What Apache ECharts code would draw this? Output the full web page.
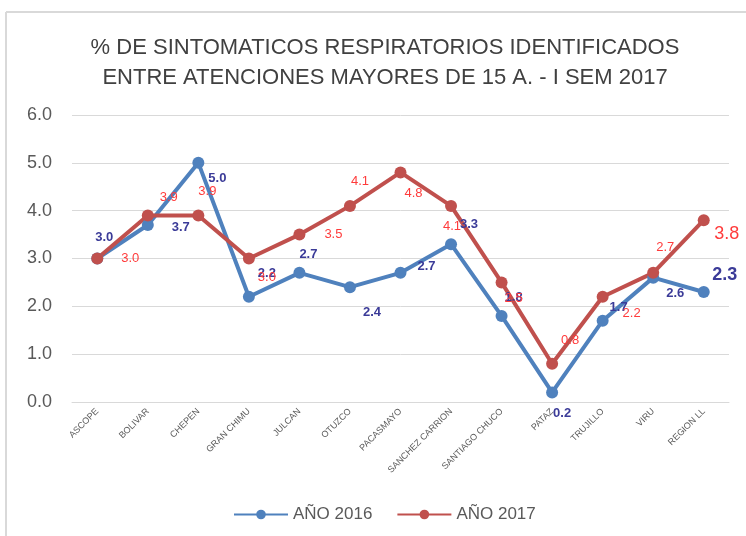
<!DOCTYPE html>
<html>
<head>
<meta charset="utf-8">
<script src="https://cdn.jsdelivr.net/npm/echarts@6/dist/echarts.min.js"></script>
<style>
  html, body { margin: 0; padding: 0; background: #fff; }
  #main { width: 746px; height: 536px; }
</style>
</head>
<body>
<div id="main"></div>
<script>
// categorias (provincias)
var provincias = ['ASCOPE', 'BOLIVAR', 'CHEPEN', 'GRAN CHIMU', 'JULCAN', 'OTUZCO', 'PACASMAYO',
    'SANCHEZ CARRION', 'SANTIAGO CHUCO', 'PATAZ', 'TRUJILLO', 'VIRU', 'REGION LL'];
// % SR identificados
var anio2016 = [3.0, 3.7, 5.0, 2.2, 2.7, 2.4, 2.7, 3.3, 1.8, 0.2, 1.7, 2.6, 2.3];
var anio2017 = [3.0, 3.9, 3.9, 3.0, 3.5, 4.1, 4.8, 4.1, 2.5, 0.8, 2.2, 2.7, 3.8];
var yTicks = [0, 1, 2, 3, 4, 5, 6];

// desplazamiento de etiquetas (como en el grafico original)
var off2016 = [[7, -21], [33, 2], [19, 16], [18, -23], [9, -18], [22, 25], [26, -6],
    [18, -20], [12, -18], [10, 21], [16, -13], [22, 16], [21, -17]];
var off2017 = [[33, 0], [21, -18], [9, -24], [18, 19], [34, 0], [10, -24], [13, 21],
    [1, 21], [12, 16], [18, -23], [29, 17], [12, -25], [23, 14]];

var font = '"Liberation Sans", sans-serif';

function buildData(values, offsets, color, bold) {
    var last = values.length - 1;
    return values.map(function (v, i) {
        return {
            value: v,
            label: {
                offset: offsets[i],
                fontSize: i === last ? 18 : 13,
                fontWeight: bold ? 'bold' : 'normal',
                color: color
            }
        };
    });
}

var chart = echarts.init(document.getElementById('main'));

var option = {
    animation: false,
    backgroundColor: '#fff',
    textStyle: { fontFamily: font },
    title: {
        text: '% DE SINTOMATICOS RESPIRATORIOS IDENTIFICADOS\nENTRE ATENCIONES MAYORES DE 15 A. - I SEM 2017',
        left: 380,
        top: 28,
        textAlign: 'center',
        textStyle: {
            fontFamily: font,
            fontSize: 22,
            fontWeight: 'normal',
            color: '#404040',
            lineHeight: 30
        }
    },
    graphic: [
        { type: 'line', shape: { x1: 6, y1: 12, x2: 746, y2: 12 }, style: { stroke: '#d9d9d9', lineWidth: 2 } },
        { type: 'line', shape: { x1: 6, y1: 12, x2: 6, y2: 536 }, style: { stroke: '#d9d9d9', lineWidth: 2 } }
    ],
    legend: {
        left: 228,
        bottom: 8,
        itemWidth: 54,
        itemHeight: 12,
        itemGap: 24,
        textStyle: { fontFamily: font, fontSize: 17, color: '#595959' },
        data: ['AÑO 2016', 'AÑO 2017']
    },
    grid: { left: 72, right: 17, top: 115, bottom: 134 },
    xAxis: {
        type: 'category',
        data: provincias,
        axisLine: { lineStyle: { color: '#d9d9d9' } },
        axisTick: { show: false },
        axisLabel: { rotate: 45, fontSize: 9, color: '#595959', margin: 8, interval: 0 }
    },
    yAxis: {
        type: 'value',
        min: yTicks[0],
        max: yTicks[yTicks.length - 1],
        interval: 1,
        axisLine: { show: false },
        axisTick: { show: false },
        splitLine: { lineStyle: { color: '#d9d9d9', width: 1 } },
        axisLabel: {
            fontSize: 18, color: '#595959', margin: 20,
            formatter: function (v) { return v.toFixed(1); }
        }
    },
    series: [
        {
            name: 'AÑO 2016',
            type: 'line',
            data: buildData(anio2016, off2016, '#3b3b98', true),
            symbol: 'circle',
            symbolSize: 12,
            itemStyle: { color: '#4f81bd' },
            lineStyle: { width: 4, color: '#4f81bd' },
            label: {
                show: true,
                position: 'inside',
                formatter: function (p) { return p.value.toFixed(1); }
            }
        },
        {
            name: 'AÑO 2017',
            type: 'line',
            data: buildData(anio2017, off2017, '#ff3b3b', false),
            symbol: 'circle',
            symbolSize: 12,
            itemStyle: { color: '#c0504d' },
            lineStyle: { width: 4, color: '#c0504d' },
            label: {
                show: true,
                position: 'inside',
                formatter: function (p) { return p.value.toFixed(1); }
            }
        }
    ]
};

chart.setOption(option);
</script>
</body>
</html>
